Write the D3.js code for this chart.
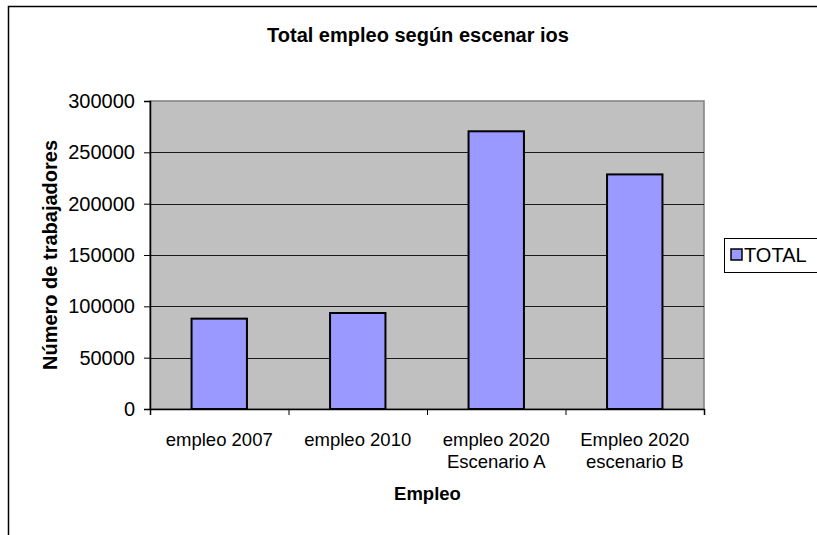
<!DOCTYPE html>
<html>
<head>
<meta charset="utf-8">
<script src="https://cdn.jsdelivr.net/npm/d3@7"></script>
<style>
  html, body { margin: 0; padding: 0; background: #fff; }
  svg { display: block; font-family: "Liberation Sans", Arial, sans-serif; }
</style>
</head>
<body>
<svg id="chart" width="817" height="535"></svg>
<script>
// Employment totals per scenario
const categories = [
  ["empleo 2007"],
  ["empleo 2010"],
  ["empleo 2020", "Escenario A"],
  ["Empleo 2020", "escenario B"]
];
const totals = [88000, 93500, 270500, 228500];
const yTicks = [0, 50000, 100000, 150000, 200000, 250000, 300000];
const seriesName = "TOTAL";

const svg = d3.select("#chart");
const plot = { left: 150, right: 704, top: 101, bottom: 409 };

// Outer chart frame (left and top edges visible)
svg.append("path")
  .attr("d", "M8.5,535 V6.5 H817")
  .attr("fill", "none").attr("stroke", "#000").attr("stroke-width", 1.5);

const x = d3.scaleBand()
  .domain(categories.map((d, i) => i))
  .range([plot.left, plot.right])
  .paddingInner(0.6).paddingOuter(0.3);

const y = d3.scaleLinear().domain([0, 300000]).range([plot.bottom, plot.top]);

// Plot area background
svg.append("rect")
  .attr("x", plot.left).attr("y", plot.top)
  .attr("width", plot.right - plot.left).attr("height", plot.bottom - plot.top)
  .attr("fill", "#C0C0C0").attr("stroke", "#808080").attr("stroke-width", 1.5);

// Horizontal gridlines
svg.append("g").selectAll("line")
  .data(yTicks.filter(t => t > 0 && t < 300000))
  .join("line")
  .attr("x1", plot.left).attr("x2", plot.right)
  .attr("y1", d => Math.round(y(d)) + 0.5).attr("y2", d => Math.round(y(d)) + 0.5)
  .attr("stroke", "#1a1a1a").attr("stroke-width", 1);

// Bars
svg.append("g").selectAll("rect")
  .data(totals)
  .join("rect")
  .attr("x", (d, i) => x(i))
  .attr("y", d => y(d))
  .attr("width", x.bandwidth())
  .attr("height", d => plot.bottom - y(d))
  .attr("fill", "#9999FF")
  .attr("stroke", "#000").attr("stroke-width", 2);

// Y axis
const yAxis = svg.append("g")
  .attr("transform", `translate(${plot.left},0)`)
  .call(d3.axisLeft(y).tickValues(yTicks).tickFormat(d3.format("d")).tickSize(6).tickPadding(9));
yAxis.select(".domain").attr("stroke", "#000").attr("stroke-width", 1.5);
yAxis.selectAll(".tick line").attr("stroke", "#000");
yAxis.selectAll(".tick text")
  .attr("font-size", 20).attr("fill", "#000")
  .attr("font-family", "Liberation Sans, Arial, sans-serif");

// X axis line with ticks at category boundaries
const xAxisScale = d3.scaleLinear().domain([0, categories.length]).range([plot.left, plot.right]);
const xAxis = svg.append("g")
  .attr("transform", `translate(0,${plot.bottom})`)
  .call(d3.axisBottom(xAxisScale).tickValues(d3.range(categories.length + 1))
    .tickSize(6).tickFormat(""));
xAxis.select(".domain").attr("stroke", "#000").attr("stroke-width", 1.5);
xAxis.selectAll(".tick line").attr("stroke", "#000");

// Category labels
const catG = svg.append("g");
categories.forEach((lines, i) => {
  const cx = x(i) + x.bandwidth() / 2;
  const t = catG.append("text")
    .attr("x", cx).attr("y", 446)
    .attr("text-anchor", "middle").attr("font-size", 18.5).attr("fill", "#000");
  lines.forEach((ln, j) => {
    t.append("tspan").attr("x", cx).attr("dy", j === 0 ? 0 : 22).text(ln);
  });
});

// Title
svg.append("text")
  .attr("x", 418).attr("y", 42)
  .attr("text-anchor", "middle").attr("font-size", 20).attr("font-weight", "bold")
  .text("Total empleo según escenar ios");

// Axis titles
svg.append("text")
  .attr("x", (plot.left + plot.right) / 2 + 0.5).attr("y", 500)
  .attr("text-anchor", "middle").attr("font-size", 18.5).attr("font-weight", "bold")
  .text("Empleo");

svg.append("text")
  .attr("transform", `translate(57,${(plot.top + plot.bottom) / 2}) rotate(-90)`)
  .attr("text-anchor", "middle").attr("font-size", 20).attr("font-weight", "bold")
  .text("Número de trabajadores");

// Legend
const lg = svg.append("g");
lg.append("rect")
  .attr("x", 724.5).attr("y", 238.5).attr("width", 100).attr("height", 34)
  .attr("fill", "#fff").attr("stroke", "#000").attr("stroke-width", 1);
lg.append("rect")
  .attr("x", 731).attr("y", 249).attr("width", 11).attr("height", 11)
  .attr("fill", "#9999FF").attr("stroke", "#000").attr("stroke-width", 1.5);
lg.append("text")
  .attr("x", 744).attr("y", 262)
  .attr("font-size", 20).attr("fill", "#000")
  .text(seriesName);
</script>
</body>
</html>
